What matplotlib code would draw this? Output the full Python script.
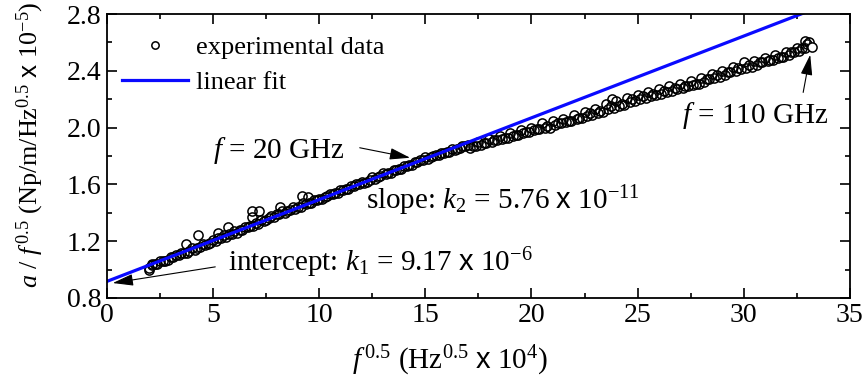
import matplotlib
matplotlib.use('Agg')
import matplotlib.pyplot as plt
import numpy as np
from matplotlib.ticker import MultipleLocator

plt.rcParams['font.family'] = 'Liberation Serif'
plt.rcParams['mathtext.fontset'] = 'custom'
plt.rcParams['mathtext.rm'] = 'Liberation Serif'
plt.rcParams['mathtext.it'] = 'Liberation Serif:italic'
plt.rcParams['mathtext.sf'] = 'Liberation Sans'
plt.rcParams['font.size'] = 20

# fit parameters (plot units: y in 1e-5, x in 1e4 Hz^0.5)
k1 = 0.917
k2 = 0.0576

# main sweep, uniform grid in f^0.5
sweep1_x = np.arange(2.0, 33.01, 0.25)
sweep1_y = [
    1.01, 1.04, 1.06, 1.06, 1.09, 1.10, 1.12, 1.12, 1.15, 1.15, 1.18, 1.18,
    1.21, 1.22, 1.24, 1.25, 1.27, 1.28, 1.30, 1.31, 1.33, 1.35, 1.35, 1.38,
    1.39, 1.41, 1.41, 1.44, 1.44, 1.47, 1.47, 1.49, 1.50, 1.51, 1.53, 1.54,
    1.56, 1.57, 1.59, 1.60, 1.62, 1.62, 1.65, 1.65, 1.68, 1.68, 1.70, 1.71,
    1.73, 1.74, 1.76, 1.77, 1.79, 1.79, 1.81, 1.82, 1.83, 1.85, 1.85, 1.87,
    1.88, 1.87, 1.90, 1.89, 1.92, 1.91, 1.94, 1.93, 1.96, 1.95, 1.98, 1.97,
    2.00, 1.99, 2.03, 2.01, 2.05, 2.03, 2.06, 2.05, 2.09, 2.07, 2.11, 2.10,
    2.13, 2.12, 2.17, 2.15, 2.19, 2.17, 2.21, 2.20, 2.23, 2.22, 2.25, 2.24,
    2.27, 2.26, 2.29, 2.28, 2.31, 2.29, 2.33, 2.31, 2.35, 2.34, 2.38, 2.37,
    2.40, 2.39, 2.43, 2.42, 2.46, 2.44, 2.47, 2.46, 2.49, 2.48, 2.51, 2.50,
    2.53, 2.53, 2.56, 2.56, 2.59,
]

# second sweep (high-frequency part)
sweep2_x = np.arange(17.125, 32.9, 0.25)
sweep2_y = [
    1.86, 1.87, 1.88, 1.89, 1.90, 1.91, 1.92, 1.93, 1.94, 1.95, 1.96, 1.97,
    1.98, 1.99, 2.00, 2.00, 2.02, 2.03, 2.04, 2.05, 2.06, 2.07, 2.08, 2.09,
    2.10, 2.11, 2.13, 2.14, 2.15, 2.16, 2.18, 2.19, 2.20, 2.21, 2.22, 2.23,
    2.24, 2.25, 2.26, 2.27, 2.28, 2.29, 2.30, 2.31, 2.32, 2.34, 2.35, 2.36,
    2.37, 2.39, 2.40, 2.41, 2.42, 2.43, 2.44, 2.46, 2.47, 2.48, 2.49, 2.50,
    2.51, 2.53, 2.54, 2.56,
]

# second sweep (low-frequency part)
sweep3_x = np.arange(2.125, 16.9, 0.25)
sweep3_y = [
    1.03, 1.04, 1.06, 1.07, 1.09, 1.10, 1.12, 1.13, 1.14, 1.16, 1.17, 1.19,
    1.20, 1.22, 1.23, 1.25, 1.26, 1.28, 1.30, 1.31, 1.32, 1.34, 1.36, 1.37,
    1.39, 1.40, 1.42, 1.43, 1.44, 1.46, 1.47, 1.49, 1.50, 1.52, 1.53, 1.54,
    1.56, 1.57, 1.59, 1.60, 1.61, 1.63, 1.64, 1.66, 1.67, 1.68, 1.70, 1.71,
    1.73, 1.74, 1.76, 1.77, 1.78, 1.80, 1.81, 1.82, 1.83, 1.84, 1.86, 1.87,
]

# scattered outliers
outlier_x = [2.0, 2.1, 3.72, 4.29, 5.23, 5.70, 6.83, 6.83, 7.16, 8.15, 9.18, 9.47, 23.8, 32.9, 33.1]
outlier_y = [1.00, 1.04, 1.18, 1.24, 1.26, 1.30, 1.41, 1.37, 1.41, 1.44, 1.52, 1.51, 2.20, 2.61, 2.60]

end_x = [33.2]
end_y = [2.57]

fig, ax = plt.subplots(figsize=(8.68, 3.81), dpi=100)
fig.subplots_adjust(left=0.1233, right=0.979, top=0.963, bottom=0.218)

mk = dict(marker='o', linestyle='none', markersize=6.6, markerfacecolor='none',
          markeredgecolor='black', markeredgewidth=1.1)
ax.plot(sweep1_x, sweep1_y, label='experimental data', **mk)
ax.plot(sweep2_x, sweep2_y, **mk)
ax.plot(sweep3_x, sweep3_y, **mk)
ax.plot(outlier_x, outlier_y, **mk)

fit_x = np.array([0, 35])
ax.plot(fit_x, k1 + k2 * fit_x, color='#0a0aff', linewidth=2.3, label='linear fit')
ax.plot(end_x, end_y, marker='o', linestyle='none', markersize=6.6,
        markerfacecolor='white', markeredgecolor='black', markeredgewidth=1.1)

ax.set_xlim(0, 35)
ax.set_ylim(0.8, 2.8)
ax.xaxis.set_major_locator(MultipleLocator(5))
ax.xaxis.set_minor_locator(MultipleLocator(2.5))
ax.yaxis.set_major_locator(MultipleLocator(0.4))
ax.yaxis.set_minor_locator(MultipleLocator(0.2))
ax.tick_params(which='both', direction='in', top=True, right=True, width=1.2,
               labelsize=20)
ax.tick_params(which='major', length=7)
ax.tick_params(which='minor', length=3.6)
ax.tick_params(axis='x', pad=4)
ax.tick_params(axis='y', pad=4)
for s in ax.spines.values():
    s.set_linewidth(1.3)

ax.set_xlabel(r'$\mathit{f}^{\,0.5}$ (Hz$^{0.5}$ $\mathsf{x}$ 10$^{4}$)', fontsize=21)
ax.xaxis.set_label_coords(0.462, -0.16)
ax.set_ylabel(r'$\mathit{a}$ / $\mathit{f}^{\,0.5}$ (Np/m/Hz$^{0.5}$ $\mathsf{x}$ 10$^{-5}$)', fontsize=18.8)
ax.yaxis.set_label_coords(-0.082, 0.54)

ax.legend(loc='upper left', bbox_to_anchor=(0.02, 0.925), frameon=False,
          handlelength=2.5, handletextpad=0.3, labelspacing=0.45, borderpad=0,
          borderaxespad=0, fontsize=19, markerscale=0.8)

arrow = dict(arrowstyle='-|>,head_length=0.7,head_width=0.2', color='black', lw=0.8,
             mutation_scale=18)
ann_fs = 21
ax.annotate('', xy=(14.41, 1.784), xytext=(11.78, 1.862), arrowprops=arrow)
ax.text(4.99, 1.84, r'$\mathit{f}$ = 20 GHz', ha='left', va='center', fontsize=ann_fs)

ax.annotate('', xy=(0.14, 0.902), xytext=(5.23, 1.022), arrowprops=arrow)
ax.text(5.70, 1.05, r'intercept: $\mathit{k}_{1}$ = 9.17 $\mathsf{x}$ 10$^{-6}$',
        ha='left', va='center', fontsize=ann_fs)

ax.text(12.2, 1.486, r'slope: $\mathit{k}_{2}$ = 5.76 $\mathsf{x}$ 10$^{-11}$',
        ha='left', va='center', fontsize=ann_fs)

ax.annotate('', xy=(33.16, 2.533), xytext=(32.78, 2.229), arrowprops=arrow)
ax.text(27.08, 2.088, r'$\mathit{f}$ = 110 GHz', ha='left', va='center', fontsize=ann_fs)

plt.savefig('out.png', dpi=100)
plt.close()
